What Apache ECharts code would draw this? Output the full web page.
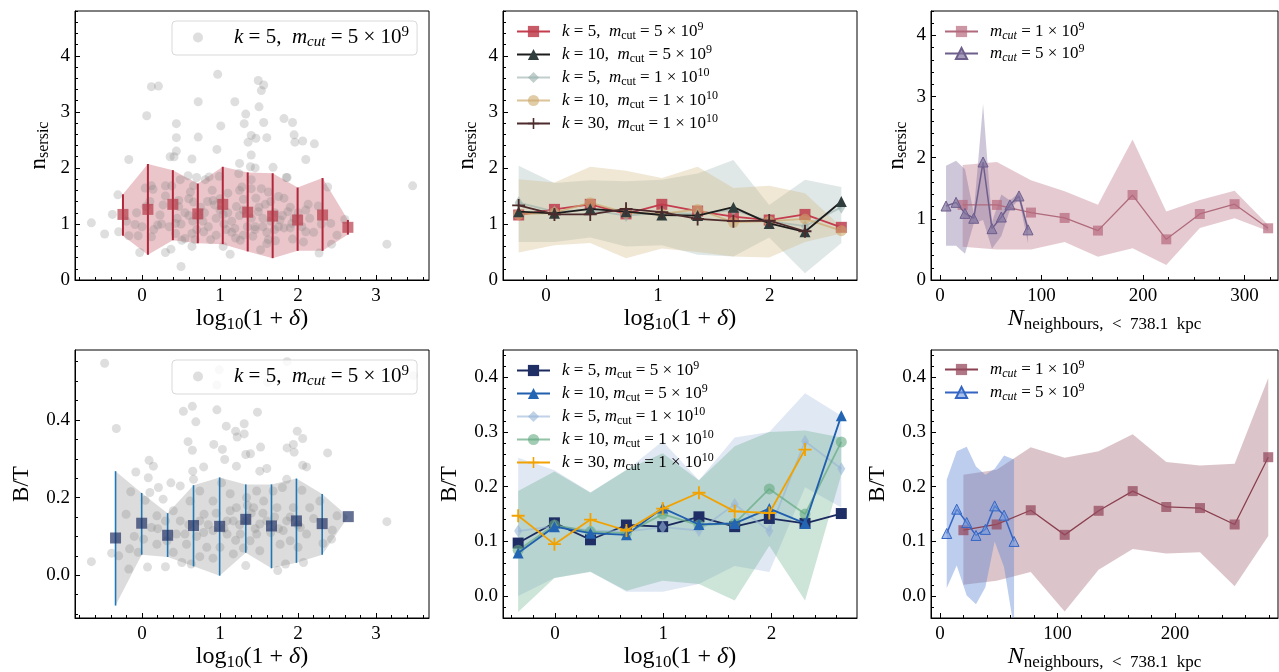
<!DOCTYPE html>
<html><head><meta charset="utf-8">
<script src="https://cdn.jsdelivr.net/npm/echarts@6/dist/echarts.min.js"></script>
<style>html,body{margin:0;padding:0;background:#fff}#c{width:1279px;height:672px}</style>
</head><body><div id="c"></div><script>
// ---------------- DATA ----------------
// bin centres
const xTop = [-0.245, 0.075, 0.395, 0.715, 1.035, 1.355, 1.675, 1.995, 2.315, 2.64];
const xBot = [-0.34, -0.005, 0.328, 0.66, 0.995, 1.33, 1.66, 1.98, 2.31, 2.645];

// panel 1 (n_sersic vs log10(1+delta))
const p1Mean = [1.17, 1.26, 1.35, 1.18, 1.35, 1.21, 1.14, 1.07, 1.16, 0.94];
const p1Hi   = [1.53, 2.07, 1.96, 1.72, 2.02, 1.92, 1.905, 1.65, 1.82, 1.07];
const p1Lo   = [0.79, 0.45, 0.71, 0.655, 0.64, 0.51, 0.39, 0.52, 0.52, 0.81];
const p1Points = [[-0.65,1.02],[-0.48,0.82],[-0.38,1.17],[-0.31,1.52],[-0.30,0.86],[-0.17,2.15],[-0.17,0.79],[-0.07,1.20],[-0.09,0.99],[-0.05,0.79],[-0.03,0.49],[0.06,2.93],[0.12,3.45],[0.21,3.46],[0.04,1.64],[0.05,1.31],[0.12,1.68],[0.14,1.62],[0.12,0.77],[0.20,0.98],[0.23,1.16],[0.27,1.34],[0.30,1.68],[0.38,1.68],[0.41,2.20],[0.44,2.79],[0.44,2.54],[0.44,2.30],[0.36,2.20],[0.30,0.49],[0.37,0.55],[0.50,0.24],[0.47,1.42],[0.47,1.31],[0.43,1.01],[0.43,0.83],[0.51,0.71],[0.49,1.79],[0.59,1.86],[0.64,2.16],[0.70,1.83],[0.72,2.55],[0.72,3.18],[0.66,1.68],[0.62,1.57],[0.66,1.39],[0.60,1.15],[0.64,0.83],[0.64,0.60],[0.55,0.74],[0.81,1.79],[0.86,1.84],[0.84,1.40],[0.79,0.86],[0.91,1.42],[0.93,1.34],[0.96,2.33],[0.99,1.85],[1.01,2.75],[0.97,3.67],[1.04,1.17],[1.04,0.60],[1.13,0.46],[1.19,3.18],[1.19,0.92],[1.21,1.31],[1.24,1.90],[1.25,2.08],[1.26,0.71],[1.31,2.79],[1.33,2.96],[1.36,2.46],[1.39,2.02],[1.40,1.79],[1.28,1.66],[1.30,1.44],[1.49,3.56],[1.56,3.48],[1.53,3.38],[1.50,3.09],[1.56,2.81],[1.46,2.53],[1.60,2.54],[1.40,2.58],[1.40,2.23],[1.82,2.88],[1.93,2.81],[1.95,2.59],[1.96,2.46],[2.06,2.48],[2.21,2.43],[2.10,2.15],[1.68,2.01],[1.45,2.0],[1.86,1.83],[2.38,1.66],[3.47,1.68],[3.14,0.64],[2.27,0.48],[2.43,0.64],[2.50,0.80],[2.60,1.08],[2.42,1.01],[2.26,1.32],[2.13,1.35],[2.10,0.86],[2.07,0.68],[1.52,0.54],[1.60,0.65],[1.71,0.70],[1.93,0.73],[1.92,1.01],[1.87,1.22],[1.82,1.46],[1.85,1.83],[1.46,1.46],[1.49,1.22],[1.45,0.95],[1.58,1.35],[1.65,1.05],[1.77,1.07],[1.82,0.93],[1.90,0.93],[1.75,1.49],[1.62,1.57],[1.53,1.63],[1.40,1.63],[1.05,1.0],[1.1,1.2],[1.15,0.85],[0.95,1.1],[0.85,0.95],[0.75,1.3],[0.65,1.05],[0.7,0.9],[1.25,1.15],[1.35,0.95],[1.4,1.1],[1.3,0.8],[1.2,0.75],[1.45,0.9],[1.55,1.1],[1.6,0.85],[1.7,1.2],[1.75,0.95],[1.65,1.4],[1.8,1.15],[1.9,1.3],[2.0,1.2],[2.05,0.95],[2.15,1.1],[2.2,0.85],[1.0,1.45],[0.9,1.6],[0.55,1.2],[0.45,1.1],[0.3,1.5],[0.25,1.0],[0.15,0.9],[0.1,1.4],[0.6,1.45],[0.8,1.2],[1.1,1.55],[1.5,1.3],[1.25,1.6],[0.95,0.8],[1.15,1.05],[0.72,1.15],[0.78,1.05],[1.0,1.25],[1.08,0.9],[1.3,1.25],[1.55,0.95],[1.7,0.9],[1.95,1.1],[2.1,1.25],[0.35,0.95],[-0.2,1.05],[0.0,0.95],[0.5,1.0],[0.68,0.72],[1.42,0.78],[1.62,0.72],[0.88,0.72],[2.3,1.0]];

// panel 2 (n_sersic, several k / m_cut)
const p2_k5_m5e9   = [1.16, 1.26, 1.35, 1.18, 1.35, 1.23, 1.13, 1.07, 1.17, 0.94];
const p2_k10_m5e9  = [1.22, 1.19, 1.27, 1.22, 1.16, 1.15, 1.30, 1.01, 0.86, 1.40];
const p2_k5_m1e10  = [1.38, 1.22, 1.25, 1.15, 1.20, 1.18, 1.25, 1.05, 0.96, 1.30];
const p2_k10_m1e10 = [1.17, 1.20, 1.38, 1.20, 1.18, 1.26, 1.03, 1.05, 1.09, 0.88];
const p2_k30_m1e10 = [1.33, 1.17, 1.17, 1.27, 1.21, 1.09, 1.05, 1.06, 0.87];
const p2BandAHi = [2.04, 1.73, 1.78, 1.76, 1.79, 1.90, 2.14, 1.34, 1.79, 1.66];
const p2BandALo = [0.68, 0.68, 0.76, 0.60, 0.62, 0.45, 0.42, 0.76, 0.12, 0.66];
const p2BandBHi = [1.80, 1.74, 2.02, 1.95, 1.82, 2.02, 1.64, 1.68, 1.55, 0.95];
const p2BandBLo = [0.49, 0.62, 0.66, 0.39, 0.56, 0.50, 0.42, 0.40, 0.68, 0.83];

// panel 3 (n_sersic vs N_neighbours)
const p3N1 = [22.3, 56, 89.6, 122.8, 155.6, 189.7, 222.9, 256, 290.2, 323.3];
const p3M1 = [1.228, 1.228, 1.103, 1.015, 0.808, 1.39, 0.665, 1.08, 1.24, 0.846];
const p3Hi1 = [1.88, 1.93, 1.63, 1.45, 1.23, 2.30, 1.12, 1.31, 1.46, 0.90];
const p3Lo1 = [0.545, 0.50, 0.50, 0.62, 0.38, 0.52, 0.245, 0.85, 1.01, 0.80];
const p3N2 = [5.9, 15.8, 24.6, 33.2, 42.4, 51.2, 60.4, 68.9, 77.8, 86.7];
const p3M2 = [1.21, 1.27, 1.09, 1.01, 1.93, 0.84, 1.03, 1.23, 1.375, 0.82];
const p3Hi2 = [1.87, 1.95, 1.81, 1.10, 2.88, 0.95, 1.40, 1.30, 1.43, 0.90];
const p3Lo2 = [0.56, 0.56, 0.43, 0.92, 0.98, 0.51, 0.72, 1.15, 1.32, 0.60];

// panel 4 (B/T vs log10(1+delta))
const p4Mean = [0.096, 0.134, 0.103, 0.128, 0.126, 0.144, 0.127, 0.140, 0.133, 0.151];
const p4Hi   = [0.268, 0.212, 0.160, 0.232, 0.252, 0.234, 0.234, 0.249, 0.209, 0.151];
const p4Lo   = [-0.078, 0.053, 0.047, 0.023, -0.001, 0.058, 0.018, 0.032, 0.053, 0.151];
const p4Points = [[-0.48,0.546],[-0.33,0.378],[-0.65,0.035],[-0.39,0.057],[-0.30,0.05],[-0.17,0.016],[-0.145,0.215],[-0.205,0.157],[-0.08,0.266],[0.09,0.296],[0.145,0.281],[0.08,0.251],[0.04,0.193],[0.10,0.213],[0.21,0.226],[0.27,0.196],[0.37,0.238],[0.30,0.022],[0.07,0.021],[-0.05,0.059],[-0.16,0.068],[0.02,0.093],[0.19,0.080],[0.49,0.23],[0.53,0.422],[0.645,0.435],[0.69,0.395],[0.59,0.344],[0.645,0.322],[0.79,0.279],[0.65,0.268],[0.66,0.247],[0.51,0.033],[0.63,0.029],[0.74,0.048],[0.96,0.426],[0.99,0.529],[0.96,0.49],[1.08,0.384],[0.92,0.337],[1.03,0.324],[1.06,0.298],[1.20,0.371],[1.22,0.356],[1.31,0.39],[1.31,0.364],[1.33,0.311],[1.39,0.313],[1.48,0.42],[1.52,0.33],[1.51,0.268],[1.60,0.275],[1.21,0.281],[1.13,0.21],[1.02,0.238],[1.61,0.497],[1.86,0.55],[1.86,0.328],[1.94,0.337],[1.99,0.371],[2.06,0.352],[1.95,0.317],[2.06,0.283],[2.11,0.279],[2.38,0.315],[1.855,0.247],[1.80,0.226],[3.14,0.138],[3.48,0.514],[2.43,0.093],[2.32,0.082],[2.50,0.153],[2.44,0.116],[2.20,0.146],[2.05,0.219],[2.07,0.033],[1.74,0.012],[1.84,0.029],[1.33,0.025],[1.17,0.055],[0.91,0.044],[0.83,0.072],[0.40,0.059],[0.32,0.089],[0.49,0.14],[0.40,0.166],[0.19,0.153],[0.12,0.123],[0.55,0.106],[0.79,0.110],[0.795,0.157],[0.91,0.191],[1.13,0.166],[1.17,0.14],[1.26,0.106],[1.385,0.089],[1.47,0.106],[1.43,0.174],[1.56,0.191],[1.60,0.14],[1.73,0.174],[1.81,0.115],[1.90,0.089],[2.00,0.072],[2.11,0.106],[2.15,0.174],[2.28,0.191],[1.855,0.14],[1.77,0.08],[1.51,0.063],[1.09,0.106],[1.00,0.072],[0.74,0.14],[0.615,0.191],[0.74,0.217],[1.21,0.174],[1.34,0.2],[1.47,0.217],[1.34,0.14],[1.51,0.132],[1.68,0.217],[1.94,0.174],[2.03,0.123],[0.91,0.115],[1.09,0.14],[0.57,0.08],[0.44,0.106],[1.25,0.13],[1.4,0.16],[1.45,0.12],[1.55,0.16],[1.65,0.11],[1.7,0.15],[1.2,0.09],[1.05,0.12],[0.85,0.13],[0.7,0.1],[0.6,0.13],[1.75,0.12],[1.9,0.15],[2.0,0.13],[1.35,0.18],[1.3,0.07],[0.95,0.16],[0.2,0.12],[0.3,0.14],[-0.1,0.1]];

// panel 5 (B/T, several k / m_cut)
const p5_k5_m5e9   = [0.097, 0.134, 0.103, 0.130, 0.127, 0.145, 0.127, 0.142, 0.133, 0.151];
const p5_k10_m5e9  = [0.079, 0.127, 0.115, 0.112, 0.161, 0.131, 0.133, 0.160, 0.133, 0.330];
const p5_k5_m1e10  = [0.119, 0.128, 0.120, 0.118, 0.126, 0.120, 0.168, 0.119, 0.283, 0.233];
const p5_k10_m1e10 = [0.084, 0.130, 0.118, 0.115, 0.150, 0.130, 0.133, 0.196, 0.150, 0.282];
const p5_k30_m1e10 = [0.147, 0.095, 0.140, 0.120, 0.160, 0.189, 0.155, 0.152, 0.268];
const p5BandAHi = [0.253, 0.230, 0.190, 0.230, 0.283, 0.212, 0.290, 0.300, 0.371, 0.330];
const p5BandALo = [0.000, 0.033, 0.045, 0.008, 0.008, 0.022, 0.055, 0.044, 0.199, 0.162];
const p5BandBHi = [0.192, 0.228, 0.189, 0.231, 0.261, 0.212, 0.274, 0.300, 0.303, 0.290];
const p5BandBLo = [-0.029, 0.033, 0.044, 0.010, 0.028, 0.022, -0.008, 0.092, -0.008, 0.222];

// panel 6 (B/T vs N_neighbours)
const p6N1 = [19.9, 48.2, 77.2, 106.1, 135, 164, 192.6, 221.3, 250.8, 279.4];
const p6M1 = [0.1205, 0.131, 0.157, 0.112, 0.156, 0.192, 0.163, 0.161, 0.131, 0.254];
const p6Hi1 = [0.222, 0.231, 0.272, 0.253, 0.265, 0.296, 0.245, 0.239, 0.242, 0.399];
const p6Lo1 = [0.021, 0.028, 0.044, -0.028, 0.048, 0.086, 0.078, 0.080, 0.018, 0.110];
const p6N2 = [5.7, 14.2, 22.7, 30.6, 38.6, 46.5, 54.5, 63.0];
const p6M2 = [0.1145, 0.159, 0.1345, 0.111, 0.122, 0.165, 0.148, 0.100];
const p6Hi2 = [0.213, 0.265, 0.273, 0.237, 0.222, 0.233, 0.257, 0.250];
const p6Lo2 = [0.015, 0.056, 0.001, -0.015, 0.016, 0.100, 0.053, -0.060];

// tick labels
const ticksDelta = [0, 1, 2, 3];
const ticksN3 = [0, 100, 200, 300];
const ticksN6 = [0, 100, 200];
const ticksNs = [0, 1, 2, 3, 4];
const ticksBT4 = [0.0, 0.2, 0.4];
const ticksBT5 = [0.0, 0.1, 0.2, 0.3, 0.4];

// ---------------- STYLE / LAYOUT ----------------
const F = "'Liberation Serif','DejaVu Serif',serif";
const grids = [
  {left: 75, top: 11, width: 354, height: 269},
  {left: 503, top: 11, width: 354, height: 269},
  {left: 931, top: 11, width: 347, height: 269},
  {left: 75, top: 350, width: 354, height: 270},
  {left: 503, top: 350, width: 354, height: 270},
  {left: 931, top: 350, width: 347, height: 270}
];
function steps(a, b, s) { const r = []; for (let v = a; v <= b + 1e-9; v += s) r.push(+v.toFixed(4)); return r; }

function nameRich(size) {
  const sub = Math.round(size * 0.7);
  return {
    t: {fontFamily: F, fontSize: size, color: '#000', lineHeight: size + 4},
    i: {fontFamily: F, fontSize: size, color: '#000', fontStyle: 'italic', lineHeight: size + 4},
    s: {fontFamily: F, fontSize: sub, color: '#000', lineHeight: sub, verticalAlign: 'bottom'}
  };
}
const xNameDelta = '{t|log}{s|10}{t|(1 + }{i|δ}{t|)}';
const xNameN = '{i|N}{s|neighbours,  <  738.1  kpc}';
const yNameNs = '{t|n}{s|sersic}';
const yNameBT = '{t|B/T}';

const xAxes = [], yAxes = [];
function addX(gi, min, max, majors, minors, name, gap, dec) {
  xAxes.push({type: 'value', gridIndex: gi, min, max, position: 'bottom',
    axisLine: {show: true, onZero: false, lineStyle: {color: '#000', width: 1}},
    axisTick: {show: true, inside: true, length: 5, customValues: majors, lineStyle: {color: '#000'}},
    axisLabel: {customValues: majors, margin: 7, fontFamily: F, fontSize: 19, color: '#000',
      formatter: v => dec ? v.toFixed(dec) : String(v)},
    splitLine: {show: false},
    name, nameLocation: 'middle', nameGap: gap, nameTextStyle: {rich: nameRich(24)}
  });
  xAxes.push({type: 'value', gridIndex: gi, min, max, position: 'bottom',
    axisLine: {show: false, onZero: false},
    axisTick: {show: true, inside: true, length: 3, customValues: minors, lineStyle: {color: '#000'}},
    axisLabel: {show: false}, splitLine: {show: false}});
}
function addY(gi, min, max, majors, minors, name, gap, dec) {
  yAxes.push({type: 'value', gridIndex: gi, min, max, position: 'left',
    axisLine: {show: true, onZero: false, lineStyle: {color: '#000', width: 1}},
    axisTick: {show: true, inside: true, length: 5, customValues: majors, lineStyle: {color: '#000'}},
    axisLabel: {customValues: majors, margin: 5, fontFamily: F, fontSize: 19, color: '#000',
      formatter: v => dec ? v.toFixed(dec) : String(v)},
    splitLine: {show: false},
    name, nameLocation: 'middle', nameGap: gap, nameTextStyle: {rich: nameRich(23)}
  });
  yAxes.push({type: 'value', gridIndex: gi, min, max, position: 'left',
    axisLine: {show: false, onZero: false},
    axisTick: {show: true, inside: true, length: 3, customValues: minors, lineStyle: {color: '#000'}},
    axisLabel: {show: false}, splitLine: {show: false}});
}
addX(0, -0.86, 3.68, ticksDelta, steps(-0.8, 3.6, 0.2), xNameDelta, 25, 0);
addX(1, -0.385, 2.78, ticksDelta, steps(-0.2, 2.6, 0.2), xNameDelta, 25, 0);
addX(2, -8.9, 333, ticksN3, steps(0, 325, 25), xNameN, 25, 0);
addX(3, -0.86, 3.68, ticksDelta, steps(-0.8, 3.6, 0.2), xNameDelta, 25, 0);
addX(4, -0.48, 2.79, ticksDelta, steps(-0.4, 2.6, 0.2), xNameDelta, 25, 0);
addX(5, -7.7, 287.7, ticksN6, steps(0, 280, 20), xNameN, 25, 0);
addY(0, 0, 4.8, ticksNs, steps(0, 4.8, 0.2), yNameNs, 23, 0);
addY(1, 0, 4.8, ticksNs, steps(0, 4.8, 0.2), yNameNs, 23, 0);
addY(2, 0, 4.4, ticksNs, steps(0, 4.4, 0.2), yNameNs, 21, 0);
addY(3, -0.11, 0.58, ticksBT4, steps(-0.1, 0.55, 0.05), yNameBT, 40, 1);
addY(4, -0.04, 0.45, ticksBT5, steps(-0.04, 0.44, 0.02), yNameBT, 40, 1);
addY(5, -0.04, 0.45, ticksBT5, steps(-0.04, 0.44, 0.02), yNameBT, 40, 1);

// ---------------- SERIES BUILDERS ----------------
// Sutherland-Hodgman clip of a pixel polygon to the plot rectangle
function clipPoly(poly, r) {
  const x0 = r.x, x1 = r.x + r.width, y0 = r.y, y1 = r.y + r.height;
  const planes = [
    [p => p[0] >= x0, (a, b) => [x0, a[1] + (x0 - a[0]) * (b[1] - a[1]) / (b[0] - a[0])]],
    [p => p[0] <= x1, (a, b) => [x1, a[1] + (x1 - a[0]) * (b[1] - a[1]) / (b[0] - a[0])]],
    [p => p[1] >= y0, (a, b) => [a[0] + (y0 - a[1]) * (b[0] - a[0]) / (b[1] - a[1]), y0]],
    [p => p[1] <= y1, (a, b) => [a[0] + (y1 - a[1]) * (b[0] - a[0]) / (b[1] - a[1]), y1]]
  ];
  let out = poly;
  for (const [inside, cut] of planes) {
    const src = out; out = [];
    for (let i = 0; i < src.length; i++) {
      const cur = src[i], prev = src[(i + src.length - 1) % src.length];
      const ci = inside(cur), pi = inside(prev);
      if (ci) { if (!pi) out.push(cut(prev, cur)); out.push(cur); }
      else if (pi) out.push(cut(prev, cur));
    }
    if (!out.length) break;
  }
  return out;
}
function band(gi, xs, lo, hi, color, z) {
  const data = xs.map((x, i) => [x, lo[i], hi[i]]);
  return {type: 'custom', xAxisIndex: 2 * gi, yAxisIndex: 2 * gi, silent: true, z: z || 1,
    data, encode: {x: 0, y: [1, 2]},
    renderItem(params, api) {
      if (params.dataIndex !== 0) return null;
      const top = data.map(d => api.coord([d[0], d[2]]));
      const bot = data.slice().reverse().map(d => api.coord([d[0], d[1]]));
      const poly = clipPoly(top.concat(bot), params.coordSys);
      return {type: 'polygon', shape: {points: poly}, style: {fill: color}};
    }};
}
function errbars(gi, xs, lo, hi, color, w, z) {
  return {type: 'custom', xAxisIndex: 2 * gi, yAxisIndex: 2 * gi, silent: true, z: z || 3,
    data: xs.map((x, i) => [x, lo[i], hi[i]]), encode: {x: 0, y: [1, 2]},
    renderItem(params, api) {
      const a = api.coord([api.value(0), api.value(1)]);
      const b = api.coord([api.value(0), api.value(2)]);
      return {type: 'line', shape: {x1: a[0], y1: a[1], x2: b[0], y2: b[1]}, style: {stroke: color, lineWidth: w}};
    }};
}
function pts(name, gi, xs, ys, symbol, size, fill, z) {
  return {type: 'scatter', name, xAxisIndex: 2 * gi, yAxisIndex: 2 * gi, symbol, symbolSize: size,
    data: xs.map((x, i) => [x, ys[i]]), itemStyle: {color: fill}, z: z || 4, silent: true};
}
function line(name, gi, xs, ys, color, width, symbol, size, fill, border, z) {
  return {type: 'line', name, xAxisIndex: 2 * gi, yAxisIndex: 2 * gi, clip: true,
    data: ys.map((y, i) => [xs[i], y]), symbol, symbolSize: size, showSymbol: true,
    lineStyle: {color, width}, itemStyle: {color: fill, borderColor: border || fill, borderWidth: border ? 1 : 0},
    z: z || 5, silent: true};
}
const PLUS = 'path://M4.3,0H5.7V4.3H10V5.7H5.7V10H4.3V5.7H0V4.3H4.3Z';

const series = [];
// panel 1
series.push(band(0, xTop, p1Lo, p1Hi, 'rgba(190,80,95,0.33)', 1));
series.push({type: 'scatter', name: 'p1s', xAxisIndex: 0, yAxisIndex: 0, symbolSize: 9, data: p1Points,
  itemStyle: {color: 'rgba(128,128,128,0.32)'}, z: 2, silent: true});
series.push(errbars(0, xTop, p1Lo, p1Hi, '#b0263a', 2, 3));
series.push(pts('p1m', 0, xTop, p1Mean, 'rect', 11, 'rgba(180,55,70,0.85)', 4));
// panel 2
series.push(band(1, xTop, p2BandALo, p2BandAHi, 'rgba(160,185,180,0.32)', 1));
series.push(band(1, xTop, p2BandBLo, p2BandBHi, 'rgba(205,175,115,0.3)', 1));
series.push(line('p2a', 1, xTop, p2_k5_m5e9, '#c43c4e', 1.8, 'rect', 11, 'rgba(190,60,75,0.85)', null, 5));
series.push(line('p2b', 1, xTop, p2_k10_m5e9, '#1c1c1c', 1.8, 'triangle', 11, '#2f3d3d', null, 6));
series.push(line('p2c', 1, xTop, p2_k5_m1e10, 'rgba(150,175,170,0.6)', 1.8, 'diamond', [8, 13], 'rgba(150,175,170,0.6)', null, 5));
series.push(line('p2d', 1, xTop, p2_k10_m1e10, 'rgba(205,170,110,0.7)', 1.8, 'circle', 11, 'rgba(205,170,110,0.6)', null, 5));
series.push(line('p2e', 1, xTop, p2_k30_m1e10, '#4d2a2c', 1.8, PLUS, 13, '#4d2a2c', null, 6));
// panel 3
series.push(band(2, p3N1, p3Lo1, p3Hi1, 'rgba(180,100,120,0.34)', 1));
series.push(band(2, p3N2, p3Lo2, p3Hi2, 'rgba(120,100,150,0.36)', 1));
series.push(line('p3a', 2, p3N1, p3M1, '#b06a7c', 1.3, 'rect', 10, 'rgba(182,105,125,0.7)', null, 5));
series.push(line('p3b', 2, p3N2, p3M2, '#6e5e8c', 1.5, 'triangle', 10, 'rgba(130,115,160,0.7)', '#6e5e8c', 6));
// panel 4
series.push(band(3, xBot, p4Lo, p4Hi, 'rgba(128,128,128,0.28)', 1));
series.push({type: 'scatter', name: 'p4s', xAxisIndex: 6, yAxisIndex: 6, symbolSize: 9, data: p4Points,
  itemStyle: {color: 'rgba(128,128,128,0.32)'}, z: 2, silent: true});
series.push(errbars(3, xBot, p4Lo, p4Hi, '#1f77b4', 1.6, 3));
series.push(pts('p4m', 3, xBot, p4Mean, 'rect', 11, 'rgba(30,45,100,0.85)', 4));
// panel 5
series.push(band(4, xBot, p5BandALo, p5BandAHi, 'rgba(160,185,220,0.32)', 1));
series.push(band(4, xBot, p5BandBLo, p5BandBHi, 'rgba(100,170,135,0.32)', 1));
series.push(line('p5a', 4, xBot, p5_k5_m5e9, '#1b2a5e', 1.8, 'rect', 11, '#1f2f66', null, 5));
series.push(line('p5b', 4, xBot, p5_k10_m5e9, '#1f5fae', 1.8, 'triangle', 11, '#2365b3', null, 6));
series.push(line('p5c', 4, xBot, p5_k5_m1e10, 'rgba(150,180,215,0.6)', 1.8, 'diamond', [8, 13], 'rgba(150,180,215,0.6)', null, 5));
series.push(line('p5d', 4, xBot, p5_k10_m1e10, 'rgba(100,170,130,0.7)', 1.8, 'circle', 11, 'rgba(100,170,130,0.6)', null, 5));
series.push(line('p5e', 4, xBot, p5_k30_m1e10, '#f2a200', 1.8, PLUS, 13, '#f2a200', null, 7));
// panel 6
series.push(band(5, p6N1, p6Lo1, p6Hi1, 'rgba(150,80,95,0.33)', 1));
series.push(band(5, p6N2, p6Lo2, p6Hi2, 'rgba(90,130,210,0.4)', 1));
series.push(line('p6a', 5, p6N1, p6M1, '#8b4050', 1.3, 'rect', 10, 'rgba(150,75,95,0.75)', null, 5));
series.push(line('p6b', 5, p6N2, p6M2, '#3465c4', 1.5, 'triangle', 10, 'rgba(110,150,220,0.6)', '#3465c4', 6));

// ---------------- LEGENDS ----------------
function legRich(size) {
  const sub = Math.round(size * 0.7);
  return {
    t: {fontFamily: F, fontSize: size, color: '#000', lineHeight: size + 4},
    i: {fontFamily: F, fontSize: size, color: '#000', fontStyle: 'italic', lineHeight: size + 4},
    sb: {fontFamily: F, fontSize: sub, color: '#000', lineHeight: sub + 1, verticalAlign: 'bottom'},
    si: {fontFamily: F, fontSize: sub, color: '#000', fontStyle: 'italic', lineHeight: sub + 1, verticalAlign: 'bottom'},
    sp: {fontFamily: F, fontSize: sub, color: '#000', lineHeight: sub + 1, verticalAlign: 'top'},
    g1: {width: 26}, g2: {width: 7}
  };
}
const legText = {
  p1s: '{g1|}{i|k}{t| = 5,  }{i|m}{si|cut}{t| = 5 × 10}{sp|9}',
  p4s: '{g1|}{i|k}{t| = 5,  }{i|m}{si|cut}{t| = 5 × 10}{sp|9}',
  p2a: '{g2|}{i|k}{t| = 5,  }{i|m}{sb|cut}{t| = 5 × 10}{sp|9}',
  p2b: '{g2|}{i|k}{t| = 10,  }{i|m}{sb|cut}{t| = 5 × 10}{sp|9}',
  p2c: '{g2|}{i|k}{t| = 5,  }{i|m}{sb|cut}{t| = 1 × 10}{sp|10}',
  p2d: '{g2|}{i|k}{t| = 10,  }{i|m}{sb|cut}{t| = 1 × 10}{sp|10}',
  p2e: '{g2|}{i|k}{t| = 30,  }{i|m}{sb|cut}{t| = 1 × 10}{sp|10}',
  p5a: '{g2|}{i|k}{t| = 5, }{i|m}{sb|cut}{t| = 5 × 10}{sp|9}',
  p5b: '{g2|}{i|k}{t| = 10, }{i|m}{sb|cut}{t| = 5 × 10}{sp|9}',
  p5c: '{g2|}{i|k}{t| = 5, }{i|m}{sb|cut}{t| = 1 × 10}{sp|10}',
  p5d: '{g2|}{i|k}{t| = 10, }{i|m}{sb|cut}{t| = 1 × 10}{sp|10}',
  p5e: '{g2|}{i|k}{t| = 30, }{i|m}{sb|cut}{t| = 1 × 10}{sp|10}',
  p3a: '{g2|}{i|m}{si|cut}{t| = 1 × 10}{sp|9}',
  p3b: '{g2|}{i|m}{si|cut}{t| = 5 × 10}{sp|9}',
  p6a: '{g2|}{i|m}{si|cut}{t| = 1 × 10}{sp|9}',
  p6b: '{g2|}{i|m}{si|cut}{t| = 5 × 10}{sp|9}'
};
function leg(names, left, top, size, extra) {
  return Object.assign({data: names, left, top, orient: 'vertical', padding: 0, itemGap: 2,
    itemWidth: 33, itemHeight: 14, selectedMode: false, formatter: n => legText[n],
    textStyle: {rich: legRich(size), fontFamily: F, fontSize: size}}, extra || {});
}
const boxed = {padding: [4, 8, 5, 21], itemWidth: 10, itemHeight: 10, backgroundColor: 'rgba(255,255,255,0.8)',
  borderColor: '#d9d9d9', borderWidth: 1, borderRadius: 4};
const legends = [
  leg(['p1s'], 172, 21, 21, boxed),
  leg(['p4s'], 172, 360, 21, boxed),
  leg(['p2a', 'p2b', 'p2c', 'p2d', 'p2e'], 516, 21, 17),
  leg(['p5a', 'p5b', 'p5c', 'p5d', 'p5e'], 516, 360, 17),
  leg(['p3a', 'p3b'], 944, 21, 17, {itemGap: 1}),
  leg(['p6a', 'p6b'], 944, 359, 17, {itemGap: 2})
];

const chart = echarts.init(document.getElementById('c'), null, {renderer: 'canvas'});
chart.setOption({
  animation: false,
  backgroundColor: '#fff',
  grid: grids.map(g => Object.assign({show: true, borderColor: '#000', borderWidth: 1, backgroundColor: 'transparent'}, g)),
  xAxis: xAxes, yAxis: yAxes, legend: legends, series
});
</script></body></html>
